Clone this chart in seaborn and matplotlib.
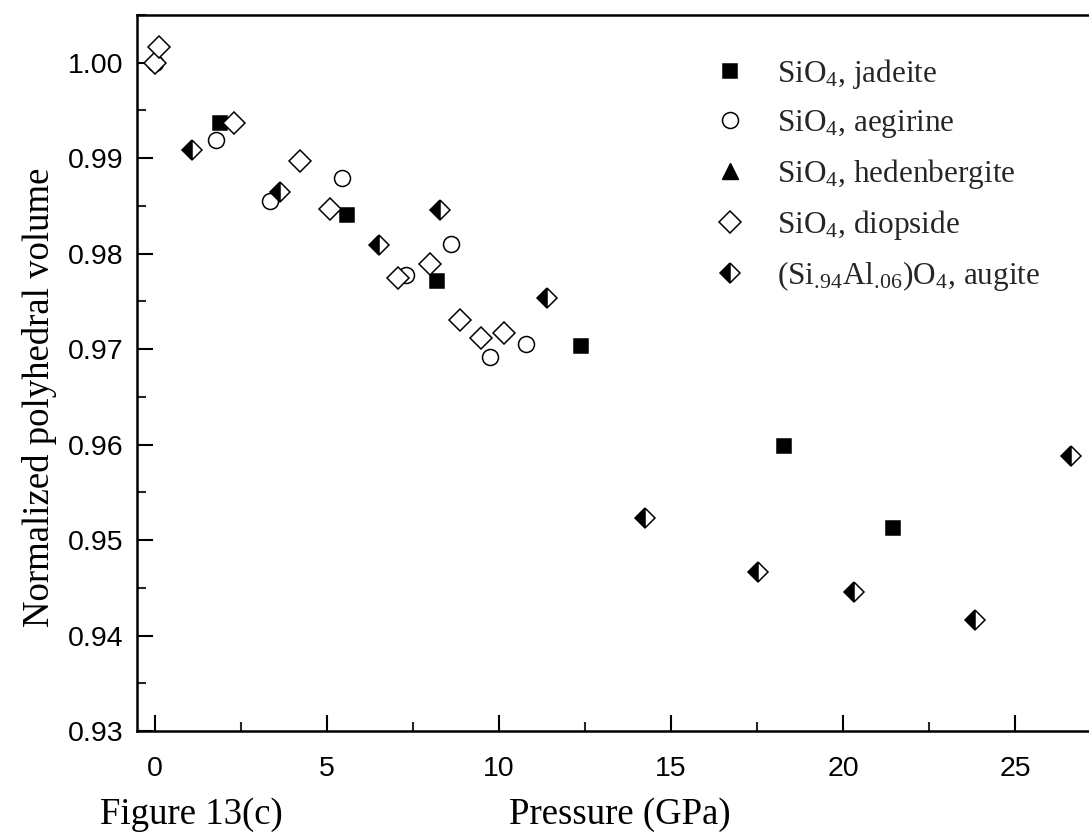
import matplotlib
matplotlib.use("Agg")
import matplotlib.pyplot as plt
import seaborn as sns
import pandas as pd
from matplotlib.ticker import MultipleLocator, FormatStrFormatter

# ---------------- data ----------------
jadeite_p = [1.89, 5.59, 8.19, 12.38, 18.28, 21.46]
jadeite_v = [0.9937, 0.9840, 0.9771, 0.9703, 0.9599, 0.9513]

aegirine_p = [0.0, 1.77, 3.34, 5.45, 7.30, 8.60, 9.74, 10.78]
aegirine_v = [1.0000, 0.9919, 0.9855, 0.9879, 0.9778, 0.9810, 0.9692, 0.9705]

hedenbergite_p = []
hedenbergite_v = []

diopside_p = [0.0, 0.125, 2.31, 4.22, 5.09, 7.08, 7.99, 8.87, 9.48, 10.15]
diopside_v = [1.0000, 1.0017, 0.9937, 0.9897, 0.9847, 0.9775, 0.9789, 0.9730, 0.9712, 0.9717]

augite_p = [1.08, 3.63, 6.52, 8.29, 11.39, 14.24, 17.54, 20.33, 23.84, 26.62]
augite_v = [0.9909, 0.9865, 0.9809, 0.9846, 0.9754, 0.9523, 0.9467, 0.9446, 0.9416, 0.9588]

labels = [
    r"SiO$_\mathregular{4}$, jadeite",
    r"SiO$_\mathregular{4}$, aegirine",
    r"SiO$_\mathregular{4}$, hedenbergite",
    r"SiO$_\mathregular{4}$, diopside",
    r"(Si$_\mathregular{.\!94}$Al$_\mathregular{.\!06}$)O$_\mathregular{4}$, augite",
]

# ---------------- style ----------------
sns.set_theme(style="ticks")
plt.rcParams["font.family"] = ["Liberation Sans", "DejaVu Sans"]
plt.rcParams["mathtext.fontset"] = "custom"
plt.rcParams["mathtext.rm"] = "Liberation Serif"
plt.rcParams["mathtext.it"] = "Liberation Serif:italic"
plt.rcParams["mathtext.bf"] = "Liberation Serif:bold"

W, H = 1089, 838
fig = plt.figure(figsize=(W / 100, H / 100), dpi=100)
fig.patch.set_facecolor("white")
L, R, T, B = 137, 1089, 15, 731
ax = fig.add_axes([L / W, (H - B) / H, (R - L) / W, (B - T) / H])
ax.set_facecolor("white")

common = dict(linestyle="", estimator=None, sort=False, markeredgecolor="black",
              markeredgewidth=1.1, ax=ax, legend=False)

sns.lineplot(x=jadeite_p, y=jadeite_v, marker="s", markersize=10.5,
             markerfacecolor="black", color="black", label=labels[0], **common)
sns.lineplot(x=aegirine_p, y=aegirine_v, marker="o", markersize=11.5,
             markerfacecolor="white", color="black", label=labels[1], **common)
ax.plot(hedenbergite_p, hedenbergite_v, linestyle="", marker="^", markersize=11,
        markerfacecolor="black", markeredgecolor="black", label=labels[2])
sns.lineplot(x=diopside_p, y=diopside_v, marker="D", markersize=10.8,
             markerfacecolor="white", color="black", label=labels[3], **common)
sns.lineplot(x=augite_p, y=augite_v, marker="D", markersize=10.2,
             fillstyle="left", markerfacecolor="black", markerfacecoloralt="white",
             color="black", label=labels[4], **common)

# ---------------- axes ----------------
ax.set_xlim(-0.52, 27.15)
ax.set_ylim(0.93, 1.005)
ax.xaxis.set_major_locator(MultipleLocator(5))
ax.xaxis.set_minor_locator(MultipleLocator(2.5))
ax.yaxis.set_major_locator(MultipleLocator(0.01))
ax.yaxis.set_minor_locator(MultipleLocator(0.005))
ax.xaxis.set_major_formatter(FormatStrFormatter("%d"))
ax.yaxis.set_major_formatter(FormatStrFormatter("%.2f"))

for s in ["left", "bottom", "top"]:
    ax.spines[s].set_linewidth(1.8)
    ax.spines[s].set_color("black")
ax.spines["right"].set_visible(False)

ax.tick_params(which="major", direction="in", length=11.5, width=1.5,
               labelsize=20.5, colors="black", top=False, right=False)
ax.tick_params(which="minor", direction="in", length=6.5, width=1.5,
               top=False, right=False)
ax.tick_params(axis="y", which="major", pad=10)
ax.tick_params(axis="x", which="major", pad=18)
ax.grid(False)

serif = ["Liberation Serif", "DejaVu Serif"]
ax.set_xlabel("Pressure (GPa)", fontsize=26.5, family=serif, color="black")
ax.set_ylabel("Normalized polyhedral volume", fontsize=26.5, family=serif, color="black")
ax.xaxis.label.set_va("center")
ax.yaxis.label.set_va("center")
ax.xaxis.set_label_coords((620 - L) / (R - L), (B - 815) / (B - T))
ax.yaxis.set_label_coords((40 - L) / (R - L), (B - 397) / (B - T))

fig.text(100 / W, 1 - 815 / H, "Figure 13(c)", fontsize=26.5, family=serif,
         ha="left", va="center", color="black")

handles, labs = ax.get_legend_handles_labels()
leg = ax.legend(handles, labs, loc="upper left",
                bbox_to_anchor=((714.4 - L) / (R - L), (B - 57) / (B - T)),
                frameon=False, borderpad=0, handlelength=1.0, handletextpad=1.0,
                labelspacing=0.545, borderaxespad=0,
                prop={"family": serif, "size": 22.5})

fig.savefig("out.png", dpi=100, facecolor="white")
